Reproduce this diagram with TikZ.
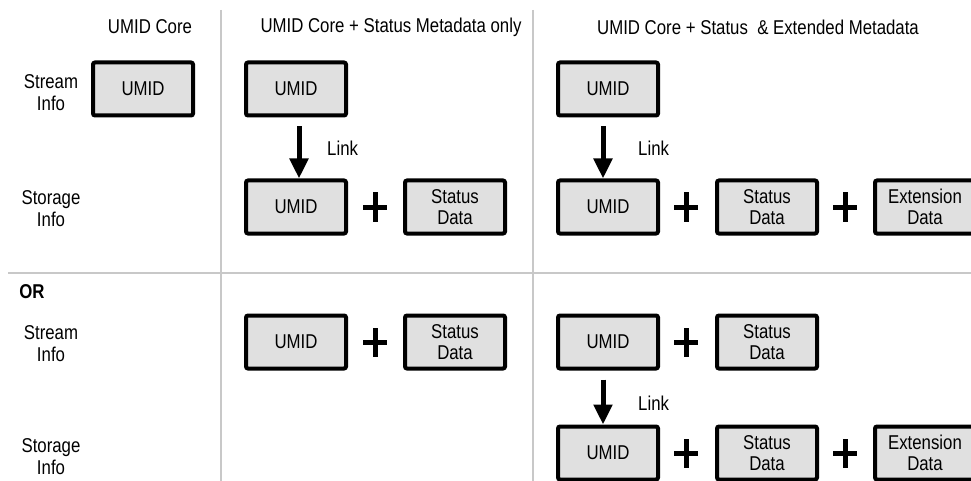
\documentclass[tikz,border=0pt]{standalone}
\usepackage{fontspec}
\setmainfont{Liberation Sans}[FakeStretch=0.84]
\usetikzlibrary{arrows.meta}
\definecolor{boxfill}{RGB}{224,224,224}
\definecolor{sepgray}{RGB}{200,200,200}
\tikzset{
  databox/.style={draw=black, line width=4pt, fill=boxfill, rounded corners=2pt,
    minimum width=100pt, minimum height=53pt, inner sep=0pt, align=center,
    font=\fontsize{20}{21}\selectfont},
  lbl/.style={align=center, inner sep=0pt, font=\fontsize{20}{22}\selectfont},
  hdr/.style={inner sep=0pt, font=\fontsize{20}{22}\selectfont},
  linkarrow/.style={line width=5pt, -{Triangle[width=18pt,length=20pt]}, shorten <=9pt},
  plusmark/.style={inner sep=0pt, minimum size=0pt},
  plusline/.style={line width=5pt},
  sepline/.style={draw=sepgray, line width=1.5pt},
}
\newcommand{\plussign}[1]{%
  \draw[plusline] ([xshift=-12pt]#1.center) -- ([xshift=12pt]#1.center);
  \draw[plusline] ([yshift=-14.5pt]#1.center) -- ([yshift=14.5pt]#1.center);}
\begin{document}
\begin{tikzpicture}[x=1pt,y=-1pt]
\useasboundingbox (0,0) rectangle (971,481);
% separators
\coordinate (v1t) at (221,10); \coordinate (v1b) at (221,481);
\coordinate (v2t) at (533,10); \coordinate (v2b) at (533,481);
\coordinate (hl) at (8,273); \coordinate (hr) at (971,273);
\draw[sepline] (v1t) -- (v1b);
\draw[sepline] (v2t) -- (v2b);
\draw[sepline] (hl) -- (hr);
% headers
\node[hdr] (h1) at (150,27) {UMID Core};
\node[hdr] (h2) at (391,27) {UMID Core + Status Metadata only};
\node[hdr] (h3) at (758,27) {UMID Core + Status \ \& Extended Metadata};
% row labels
\node[lbl] (l1) at (51,93) {Stream\\Info};
\node[lbl] (l2) at (51,209) {Storage\\Info};
\node[hdr, font=\fontsize{20}{22}\selectfont\bfseries] (or) at (32,292) {OR};
\node[lbl] (l3) at (51,344) {Stream\\Info};
\node[lbl] (l4) at (51,457) {Storage\\Info};
% column 1
\node[databox] (c1s) at (143,89) {UMID};
% column 2 top
\node[databox] (c2s) at (296,89) {UMID};
\node[databox] (c2u) at (296,207) {UMID};
\node[plusmark] (c2p) at (375,207) {};
\node[databox] (c2d) at (455,207) {Status\\Data};
\draw[linkarrow] ([xshift=3pt]c2s.south) -- ([xshift=3pt]c2u.north);
\node[hdr, anchor=west] (c2l) at (327,148) {Link};
\plussign{c2p}
% column 3 top
\node[databox] (c3s) at (608,89) {UMID};
\node[databox] (c3u) at (608,207) {UMID};
\node[plusmark] (c3p1) at (686,207) {};
\node[databox] (c3d) at (767,207) {Status\\Data};
\node[plusmark] (c3p2) at (845,207) {};
\node[databox] (c3e) at (925,207) {Extension\\Data};
\draw[linkarrow] ([xshift=-5pt]c3s.south) -- ([xshift=-5pt]c3u.north);
\node[hdr, anchor=west] (c3l) at (638,148) {Link};
\plussign{c3p1}
\plussign{c3p2}
% bottom column 2
\node[databox] (b2u) at (296,342) {UMID};
\node[plusmark] (b2p) at (375,342) {};
\node[databox] (b2d) at (455,342) {Status\\Data};
\plussign{b2p}
% bottom column 3
\node[databox] (b3u) at (608,342) {UMID};
\node[plusmark] (b3p) at (686,342) {};
\node[databox] (b3d) at (767,342) {Status\\Data};
\plussign{b3p}
\node[databox] (b3su) at (608,453) {UMID};
\node[plusmark] (b3sp1) at (686,453) {};
\node[databox] (b3sd) at (767,453) {Status\\Data};
\node[plusmark] (b3sp2) at (845,453) {};
\node[databox] (b3se) at (925,453) {Extension\\Data};
\draw[linkarrow] ([xshift=-5pt]b3u.south) -- ([xshift=-5pt]b3su.north);
\node[hdr, anchor=west] (b3l) at (638,403) {Link};
\plussign{b3sp1}
\plussign{b3sp2}
\end{tikzpicture}
\end{document}
